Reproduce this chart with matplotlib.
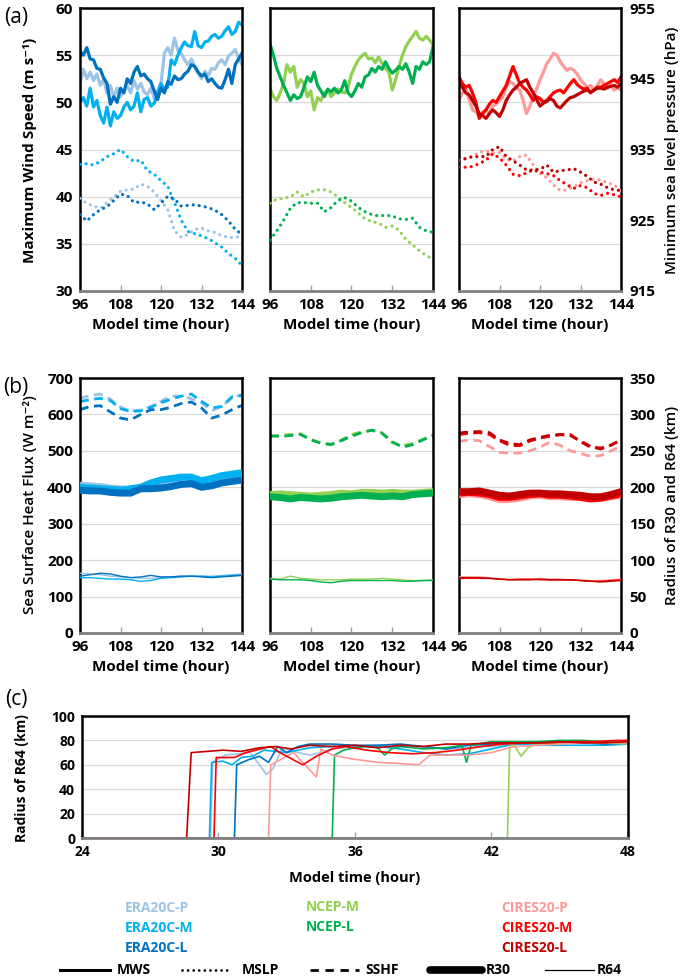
import numpy as np
import matplotlib.pyplot as plt
from matplotlib.lines import Line2D

plt.rcParams['font.family'] = ['Open Sans', 'DejaVu Sans']
plt.rcParams['font.weight'] = 'bold'

# ---------------- data ----------------
hours_a = np.arange(96, 145, 1)      # MWS (hourly)
hours_p = np.arange(96, 145, 2)      # MSLP
hours_b = np.arange(96, 145, 3)      # SSHF, R30, R64

names = ['ERA20C-P', 'ERA20C-M', 'ERA20C-L', 'NCEP-M', 'NCEP-L',
         'CIRES20-P', 'CIRES20-M', 'CIRES20-L']
colors = ['#9DC3E6', '#00B0F0', '#0070C0', '#92D050', '#00B050',
          '#FF9999', '#FF0000', '#C00000']

# (a) maximum wind speed, m/s
mws_era_p = [52.0, 53.5, 52.5, 53.2, 52.3, 53.0, 51.8, 52.4, 51.0, 51.8, 50.5, 51.5, 50.6, 51.2, 51.8, 51.0, 52.3,
             51.4, 52.0, 51.1, 50.8, 51.5, 50.4, 51.2, 52.0, 55.2, 55.8, 55.0, 56.8, 55.5, 55.2, 54.5, 54.0, 54.6,
             53.8, 53.1, 52.5, 53.3, 52.8, 53.6, 53.5, 54.2, 54.5, 54.0, 54.9, 55.2, 55.6, 54.7, 54.0]
mws_era_m = [50.0, 50.5, 49.6, 51.5, 49.5, 50.2, 48.6, 47.8, 49.5, 47.5, 49.0, 48.3, 48.6, 49.5, 50.0, 49.2, 49.6,
             51.0, 49.0, 50.3, 50.5, 49.6, 49.9, 51.0, 52.0, 51.4, 51.6, 54.5, 54.0, 55.0, 55.8, 56.4, 56.0, 55.9,
             57.5, 56.0, 55.8, 56.4, 56.5, 57.0, 57.2, 56.8, 57.0, 57.6, 58.0, 57.2, 57.5, 58.5, 58.2]
mws_era_l = [55.4, 55.0, 55.8, 54.6, 54.5, 53.6, 53.5, 52.6, 52.0, 49.8, 50.6, 50.0, 51.5, 51.0, 52.5, 52.0, 53.2,
             53.8, 52.8, 53.0, 52.5, 52.2, 51.2, 50.3, 51.5, 51.0, 52.2, 51.9, 52.8, 52.4, 52.5, 53.0, 53.3, 54.0,
             53.8, 53.2, 52.8, 53.0, 52.2, 52.5, 52.0, 51.6, 51.5, 52.4, 53.5, 52.0, 54.0, 54.6, 55.2]
mws_ncep_m = [51.5, 50.6, 50.2, 51.0, 52.0, 54.0, 53.2, 53.8, 51.6, 52.4, 52.0, 50.6, 51.2, 49.2, 50.5, 50.2, 51.0,
              51.3, 50.6, 51.0, 51.4, 51.1, 51.0, 51.6, 53.0, 53.8, 54.5, 54.9, 55.2, 54.6, 54.7, 54.2, 54.8, 54.1,
              53.6, 53.2, 51.3, 52.4, 53.8, 55.0, 55.9, 56.5, 57.0, 57.5, 56.8, 56.6, 57.0, 56.6, 56.1]
mws_ncep_l = [56.2, 55.0, 53.6, 52.7, 51.8, 51.0, 50.2, 50.8, 50.4, 50.6, 51.6, 52.7, 52.2, 53.2, 51.8, 51.2, 50.6,
              51.4, 51.1, 51.5, 51.0, 51.3, 52.3, 51.0, 50.6, 51.2, 52.0, 51.6, 52.7, 52.9, 53.6, 53.2, 53.8, 53.5,
              54.3, 53.6, 53.1, 53.4, 53.8, 53.5, 54.1, 53.2, 52.0, 53.8, 53.5, 54.3, 54.0, 54.3, 55.9]
mws_cires_p = [50.2, 51.0, 51.5, 50.3, 49.2, 49.0, 48.5, 49.0, 49.2, 48.8, 49.6, 49.8, 50.2, 50.6, 51.6, 52.2, 52.0,
               51.5, 51.3, 50.2, 48.8, 49.6, 50.6, 51.4, 52.4, 53.2, 54.1, 54.6, 55.2, 55.0, 54.3, 53.8, 53.4, 53.6,
               53.4, 53.0, 52.4, 52.0, 51.6, 51.8, 51.3, 51.8, 52.4, 51.9, 51.5, 51.8, 51.3, 51.6, 51.3]
mws_cires_m = [52.7, 52.0, 51.6, 51.8, 51.0, 50.0, 48.3, 48.8, 49.2, 49.8, 50.2, 50.0, 50.6, 51.2, 51.8, 52.8, 53.8,
               52.9, 52.0, 51.6, 51.3, 50.8, 50.2, 50.6, 50.4, 50.0, 50.2, 50.6, 51.0, 51.2, 51.3, 51.0, 51.5, 52.0,
               52.4, 51.9, 51.6, 51.4, 51.5, 51.0, 51.3, 51.6, 51.6, 51.8, 52.0, 52.2, 52.4, 52.1, 52.7]
mws_cires_l = [52.0, 51.6, 51.0, 50.8, 50.2, 49.6, 48.8, 48.6, 48.3, 48.8, 49.2, 48.9, 48.5, 49.2, 50.2, 50.8, 51.3,
               51.6, 52.0, 52.2, 52.4, 51.6, 51.0, 50.3, 49.6, 49.9, 50.1, 50.4, 50.2, 49.6, 49.4, 49.8, 50.2, 50.5,
               50.6, 50.8, 51.0, 51.2, 51.3, 51.1, 51.3, 51.5, 51.5, 51.4, 51.6, 51.7, 51.8, 51.6, 52.0]

# (a) minimum sea level pressure, hPa
mslp_era_p = [928.1, 927.4, 927.0, 926.7, 927.5, 928.3, 929.1, 929.3, 929.4, 930.1, 929.8, 929.0, 927.8,
              926.5, 923.5, 922.6, 923.0, 923.7, 923.9, 923.5, 923.3, 922.8, 922.6, 922.5, 922.9]
mslp_era_m = [932.9, 933.0, 932.8, 933.3, 934.0, 934.4, 935.0, 934.0, 933.3, 933.5, 932.0, 931.5, 930.6,
              929.8, 927.5, 925.0, 923.4, 923.1, 922.8, 922.4, 921.8, 921.2, 920.3, 919.6, 918.6]
mslp_era_l = [925.8, 924.9, 925.8, 926.5, 926.9, 927.8, 928.7, 928.5, 927.5, 927.6, 927.3, 926.5, 927.4,
              928.4, 928.0, 927.0, 927.1, 927.2, 927.0, 926.8, 926.4, 925.8, 924.9, 923.7, 923.0]
mslp_ncep_m = [927.4, 928.0, 928.1, 928.3, 929.0, 928.3, 929.0, 929.3, 929.3, 929.0, 928.3, 927.5, 926.8,
               926.0, 925.2, 924.8, 924.6, 924.0, 924.2, 923.6, 922.3, 921.5, 920.7, 920.0, 919.5]
mslp_ncep_l = [922.2, 923.5, 925.0, 926.7, 927.5, 927.5, 927.4, 927.4, 926.2, 926.8, 927.8, 928.2, 927.7,
               926.8, 926.2, 925.8, 925.6, 925.7, 925.6, 925.2, 925.1, 925.3, 924.0, 923.5, 923.3]
mslp_cires_p = [933.5, 933.8, 934.0, 934.6, 934.8, 934.5, 934.6, 933.6, 933.4, 934.0, 934.2, 932.8, 931.6,
                931.0, 930.0, 929.2, 929.3, 929.7, 930.3, 930.6, 930.8, 930.7, 930.3, 930.0, 929.0]
mslp_cires_m = [932.5, 932.5, 932.6, 933.0, 933.5, 934.4, 933.8, 932.8, 931.5, 931.3, 931.7, 932.1, 931.8,
                931.6, 931.3, 930.6, 930.0, 929.5, 929.9, 929.6, 928.8, 928.5, 928.8, 928.6, 928.3]
mslp_cires_l = [933.5, 933.7, 934.0, 934.0, 934.0, 935.0, 935.4, 934.0, 933.4, 932.8, 932.1, 932.1, 932.2,
                932.8, 931.8, 932.0, 932.1, 932.3, 931.8, 931.2, 930.4, 930.1, 929.6, 929.3, 929.2]

# (b) sea surface heat flux, W m-2
sshf_era_p = [644, 652, 656, 642, 620, 609, 612, 622, 636, 651, 650, 643, 632, 610, 622, 645, 655]
sshf_era_m = [635, 641, 644, 638, 616, 608, 610, 620, 632, 642, 650, 656, 636, 618, 622, 648, 652]
sshf_era_l = [613, 622, 624, 607, 590, 585, 600, 613, 613, 620, 630, 634, 618, 590, 598, 613, 625]
sshf_ncep_m = [540, 543, 545, 547, 532, 522, 516, 530, 545, 552, 556, 550, 522, 515, 520, 532, 543]
sshf_ncep_l = [541, 540, 542, 545, 530, 521, 518, 528, 540, 550, 557, 548, 525, 510, 517, 530, 542]
sshf_cires_p = [526, 530, 528, 512, 496, 493, 494, 500, 510, 524, 515, 500, 493, 485, 487, 500, 512]
sshf_cires_m = [545, 548, 550, 545, 528, 515, 514, 527, 535, 540, 544, 545, 525, 510, 508, 516, 530]
sshf_cires_l = [549, 552, 553, 550, 530, 520, 517, 530, 537, 543, 545, 542, 527, 512, 505, 515, 530]

# (b) radius of 30-kt wind, km
r30_era_p = [203, 202, 201, 199, 198, 197, 199, 204, 206, 207, 209, 210, 207, 210, 212, 215, 216]
r30_era_m = [200, 199, 198, 197, 196, 198, 200, 206, 210, 212, 214, 214, 209, 212, 216, 218, 220]
r30_era_l = [196, 195, 195, 193, 192, 192, 198, 198, 199, 201, 204, 205, 200, 202, 206, 208, 210]
r30_ncep_m = [190, 191, 190, 189, 188, 189, 190, 192, 191, 193, 193, 192, 193, 192, 192, 193, 194]
r30_ncep_l = [187, 186, 184, 186, 185, 184, 185, 187, 188, 189, 188, 187, 188, 187, 190, 191, 192]
r30_cires_p = [190, 191, 190, 187, 183, 183, 185, 188, 189, 187, 187, 186, 186, 185, 185, 187, 189]
r30_cires_m = [192, 193, 192, 190, 186, 186, 188, 190, 191, 189, 189, 188, 186, 184, 185, 188, 191]
r30_cires_l = [194, 194, 195, 192, 189, 188, 190, 192, 192, 191, 191, 190, 189, 187, 187, 190, 194]

# (b) radius of 64-kt wind, km
r64_era_p = [82, 81, 80, 78, 77, 76, 75, 75, 76, 77, 78, 78, 78, 78, 79, 80, 81]
r64_era_m = [76, 76, 75, 74, 74, 73, 71, 72, 75, 76, 77, 78, 78, 77, 78, 79, 80]
r64_era_l = [78, 80, 82, 81, 78, 76, 77, 79, 77, 77, 78, 78, 77, 76, 77, 78, 79]
r64_ncep_m = [75, 74, 78, 75, 74, 73, 73, 73, 74, 74, 74, 75, 74, 73, 72, 72, 73]
r64_ncep_l = [74, 73, 73, 73, 72, 70, 69, 71, 72, 72, 72, 72, 72, 71, 71, 72, 72]
r64_cires_p = [77, 77, 77, 76, 74, 74, 73, 73, 75, 74, 74, 73, 73, 72, 72, 73, 74]
r64_cires_m = [75, 75, 75, 75, 74, 73, 74, 74, 73, 73, 73, 73, 72, 71, 71, 72, 73]
r64_cires_l = [76, 76, 76, 75, 74, 73, 73, 73, 74, 73, 73, 73, 72, 71, 70, 71, 72]

# (c) radius of 64-kt wind, 24-48 h (time, value)
c_t_era_p = [24, 29.65, 29.75, 30.3, 30.9, 31.4, 31.8, 32.1, 32.4, 32.8, 33.5, 34.0, 34.5, 35.0, 36.0, 37.0,
             38.0, 39.0, 40.0, 41.0, 42.0, 43.0, 44.0, 45.0, 46.0, 47.0, 48.0]
c_r_era_p = [0, 0, 62, 68, 69, 70, 60, 52, 57, 74, 70, 68, 70, 73, 75, 76, 75, 74, 73, 74, 75, 77, 77, 78, 78,
             78, 78]
c_t_era_m = [24, 29.6, 29.7, 30.2, 30.6, 31.0, 31.5, 32.0, 32.5, 33.0, 34.0, 35.0, 36.0, 37.0, 38.0, 39.0, 40.0,
             41.0, 42.0, 43.0, 44.0, 45.0, 46.0, 47.0, 48.0]
c_r_era_m = [0, 0, 62, 63, 60, 66, 67, 72, 71, 70, 74, 75, 75, 75, 73, 70, 68, 69, 73, 77, 76, 76, 76, 76, 77]
c_t_era_l = [24, 30.7, 30.8, 31.3, 31.8, 32.2, 32.6, 33.0, 33.5, 34.0, 35.0, 36.0, 37.0, 38.0, 39.0, 40.0, 41.0,
             42.0, 43.0, 44.0, 45.0, 46.0, 47.0, 48.0]
c_r_era_l = [0, 0, 60, 64, 67, 62, 75, 70, 75, 77, 77, 76, 76, 77, 75, 73, 76, 77, 78, 78, 78, 78, 77, 78]
c_t_ncep_m = [24, 42.7, 42.8, 43.0, 43.3, 43.6, 44.0, 45.0, 46.0, 47.0, 48.0]
c_r_ncep_m = [0, 0, 77, 76, 67, 74, 78, 78, 79, 78, 77]
c_t_ncep_l = [24, 35.0, 35.1, 35.5, 36.0, 36.5, 37.0, 37.3, 37.6, 38.0, 39.0, 40.0, 40.7, 40.9, 41.1, 42.0, 43.0,
              44.0, 45.0, 46.0, 47.0, 48.0]
c_r_ncep_l = [0, 0, 68, 72, 74, 75, 74, 68, 73, 75, 73, 74, 76, 62, 76, 79, 79, 79, 80, 80, 79, 78]
c_t_cires_p = [24, 32.2, 32.3, 32.8, 33.3, 33.8, 34.3, 34.5, 35.0, 35.8, 37.0, 38.0, 38.8, 39.3, 40.0, 41.0,
               42.0, 43.0, 44.0, 45.0, 46.0, 47.0, 48.0]
c_r_cires_p = [0, 0, 60, 65, 70, 60, 50, 73, 68, 65, 62, 61, 60, 68, 68, 68, 70, 75, 76, 77, 78, 78, 78]
c_t_cires_m = [24, 29.8, 29.9, 30.7, 31.2, 32.3, 32.7, 33.7, 34.3, 35.0, 35.6, 36.5, 37.5, 38.5, 39.5, 40.5,
               41.5, 42.5, 43.5, 44.5, 45.5, 46.5, 47.5, 48.0]
c_r_cires_m = [0, 0, 66, 66, 70, 75, 70, 60, 67, 73, 75, 72, 70, 69, 70, 72, 75, 77, 78, 78, 79, 79, 80, 80]
c_t_cires_l = [24, 28.6, 28.8, 29.5, 30.2, 31.0, 31.8, 32.5, 33.2, 34.0, 35.0, 36.0, 37.0, 38.0, 39.0, 40.0,
               41.0, 42.0, 43.0, 44.0, 45.0, 46.0, 47.0, 48.0]
c_r_cires_l = [0, 0, 70, 71, 72, 71, 74, 75, 73, 76, 75, 76, 74, 76, 75, 77, 77, 78, 78, 78, 79, 78, 78, 79]

# group the series per reanalysis panel (index into names/colors)
groups = [[0, 1, 2], [3, 4], [5, 6, 7]]
mws = [mws_era_p, mws_era_m, mws_era_l, mws_ncep_m, mws_ncep_l, mws_cires_p, mws_cires_m, mws_cires_l]
mslp = [mslp_era_p, mslp_era_m, mslp_era_l, mslp_ncep_m, mslp_ncep_l, mslp_cires_p, mslp_cires_m, mslp_cires_l]
sshf = [sshf_era_p, sshf_era_m, sshf_era_l, sshf_ncep_m, sshf_ncep_l, sshf_cires_p, sshf_cires_m, sshf_cires_l]
r30 = [r30_era_p, r30_era_m, r30_era_l, r30_ncep_m, r30_ncep_l, r30_cires_p, r30_cires_m, r30_cires_l]
r64 = [r64_era_p, r64_era_m, r64_era_l, r64_ncep_m, r64_ncep_l, r64_cires_p, r64_cires_m, r64_cires_l]
c_t = [c_t_era_p, c_t_era_m, c_t_era_l, c_t_ncep_m, c_t_ncep_l, c_t_cires_p, c_t_cires_m, c_t_cires_l]
c_r = [c_r_era_p, c_r_era_m, c_r_era_l, c_r_ncep_m, c_r_ncep_l, c_r_cires_p, c_r_cires_m, c_r_cires_l]

# ---------------- layout helpers ----------------
W, H = 685, 977
fig = plt.figure(figsize=(W / 100, H / 100), dpi=100)


def box(x0, y0, x1, y1):
    return [x0 / W, 1 - y1 / H, (x1 - x0) / W, (y1 - y0) / H]


def fx(px):
    return px / W


def fy(py):
    return 1 - py / H


col_x = [(80, 242), (270, 433), (459, 621)]
dotted = (0, (0.01, 1.9))
dashed = (0, (3.2, 2.0))
grid_c = '#d9d9d9'
tick_fs = 11


def style(ax, tw, xticks, fs):
    for s in ['left', 'right', 'top']:
        ax.spines[s].set_color('black')
        ax.spines[s].set_linewidth(1.8)
    ax.spines['bottom'].set_color('#808080')
    ax.spines['bottom'].set_linewidth(2.0)
    for s in tw.spines.values():
        s.set_visible(False)
    ax.grid(axis='y', color=grid_c, lw=0.9)
    ax.set_axisbelow(True)
    ax.set_xticks(xticks)
    ax.tick_params(axis='x', direction='in', length=4, width=1, color='#a0a0a0',
                   labelsize=fs, pad=5)
    ax.tick_params(axis='y', length=0, labelsize=fs, pad=5)
    tw.tick_params(axis='y', length=0, labelsize=fs, pad=6)
    for t in ax.get_xticklabels() + ax.get_yticklabels() + tw.get_yticklabels():
        t.set_fontweight('bold')


# ---------------- panel (a) ----------------
for i, grp in enumerate(groups):
    ax = fig.add_axes(box(col_x[i][0], 8, col_x[i][1], 291))
    tw = ax.twinx()
    for k in grp:
        ax.plot(hours_a, mws[k], color=colors[k], lw=2.3, solid_joinstyle='round')
        tw.plot(hours_p, mslp[k], color=colors[k], lw=2.3, linestyle=dotted,
                dash_capstyle='round')
    ax.set_xlim(96, 144)
    ax.set_ylim(30, 60)
    tw.set_ylim(915, 955)
    ax.set_yticks(np.arange(30, 61, 5))
    tw.set_yticks(np.arange(915, 956, 10))
    if i != 0:
        ax.set_yticklabels([])
    if i != 2:
        tw.set_yticklabels([])
    style(ax, tw, [96, 108, 120, 132, 144], tick_fs)
    ax.set_xlabel('Model time (hour)', fontsize=11, fontweight='bold')
    ax.xaxis.set_label_coords(0.5, -0.095)

# ---------------- panel (b) ----------------
for i, grp in enumerate(groups):
    ax = fig.add_axes(box(col_x[i][0], 378, col_x[i][1], 633))
    tw = ax.twinx()
    for k in grp:
        ax.plot(hours_b, sshf[k], color=colors[k], lw=2.0, linestyle=dashed)
        tw.plot(hours_b, r30[k], color=colors[k], lw=5.0, solid_capstyle='butt')
        tw.plot(hours_b, r64[k], color=colors[k], lw=1.0)
    ax.set_xlim(96, 144)
    ax.set_ylim(0, 700)
    tw.set_ylim(0, 350)
    ax.set_yticks(np.arange(0, 701, 100))
    tw.set_yticks(np.arange(0, 351, 50))
    if i != 0:
        ax.set_yticklabels([])
    if i != 2:
        tw.set_yticklabels([])
    style(ax, tw, [96, 108, 120, 132, 144], tick_fs)
    ax.set_xlabel('Model time (hour)', fontsize=11, fontweight='bold')
    ax.xaxis.set_label_coords(0.5, -0.105)

# ---------------- panel (c) ----------------
axc = fig.add_axes(box(82, 716, 628, 838))
twc = axc.twinx()
twc.set_yticks([])
for k in range(len(names)):
    axc.plot(c_t[k], c_r[k], color=colors[k], lw=1.2)
axc.set_xlim(24, 48)
axc.set_ylim(0, 100)
axc.set_yticks(np.arange(0, 101, 20))
style(axc, twc, [24, 30, 36, 42, 48], 10)
axc.set_xlabel('Model time (hour)', fontsize=10.5, fontweight='bold')
axc.xaxis.set_label_coords(0.5, -0.27)

# ---------------- axis titles ----------------
fb = ['Open Sans', 'DejaVu Sans']
fig.text(fx(30), fy(150), 'Maximum Wind Speed (m s\u207b\u00b9)', rotation=90,
         ha='center', va='center', fontsize=11, fontweight='bold', family=fb)
fig.text(fx(672), fy(150), 'Minimum sea level pressure (hPa)', rotation=90,
         ha='center', va='center', fontsize=11, fontweight='semibold', family=fb)
fig.text(fx(30), fy(505), 'Sea Surface Heat Flux (W m\u207b\u00b2)', rotation=90,
         ha='center', va='center', fontsize=11, fontweight='semibold', family=fb)
fig.text(fx(672), fy(505), 'Radius of R30 and R64 (km)', rotation=90,
         ha='center', va='center', fontsize=11, fontweight='semibold', family=fb)
fig.text(fx(22), fy(778), 'Radius of R64 (km)', rotation=90,
         ha='center', va='center', fontsize=10, fontweight='bold')

for lab, py in [('(a)', 18), ('(b)', 387), ('(c)', 700)]:
    fig.text(fx(16), fy(py), lab, ha='center', va='center', fontsize=15, fontweight='normal')

# ---------------- legend ----------------
leg_pos = [(125, 908), (125, 928), (125, 948), (306, 907), (306, 927),
           (501, 908), (501, 928), (501, 948)]
for k, (px, py) in enumerate(leg_pos):
    fig.text(fx(px), fy(py), names[k], color=colors[k], ha='left', va='center',
             fontsize=10, fontweight='bold')

row = 970
keys = [((60, 110), dict(lw=2.2, ls='-'), 'MWS', 117),
        ((182, 228), dict(lw=2.0, ls=(0, (0.01, 2.0)), dash_capstyle='round'), 'MSLP', 242),
        ((310, 359), dict(lw=2.0, ls=(0, (3.0, 2.4))), 'SSHF', 365),
        ((430, 482), dict(lw=5.5, ls='-', solid_capstyle='round'), 'R30', 486),
        ((545, 594), dict(lw=0.9, ls='-'), 'R64', 597)]
for (x0, x1), kw, lab, tx in keys:
    fig.add_artist(Line2D([fx(x0), fx(x1)], [fy(row), fy(row)], color='black',
                          transform=fig.transFigure, **kw))
    fig.text(fx(tx), fy(row), lab, ha='left', va='center', fontsize=10, fontweight='bold')

fig.savefig('out.png', dpi=100)
